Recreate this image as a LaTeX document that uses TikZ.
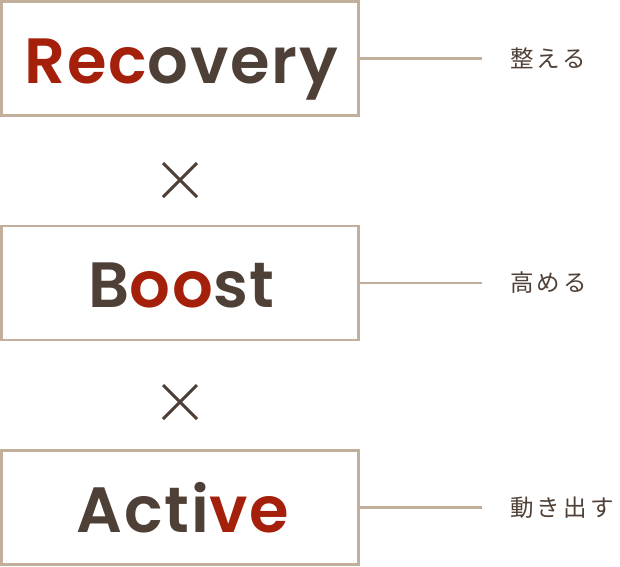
\documentclass[tikz,border=0pt]{standalone}
\usepackage{fontspec}
\setmainfont{Poppins}[BoldFont={* SemiBold},LetterSpace=3]
\newfontfamily\jafont{Noto Sans CJK JP}[LetterSpace=14]
\usetikzlibrary{positioning}
\definecolor{brownink}{HTML}{4F4037}
\definecolor{redink}{HTML}{A5200A}
\definecolor{frame}{HTML}{C2AF9B}
\tikzset{
  wordbox/.style={draw=frame,line width=2.6pt,minimum width=357pt,minimum height=114pt,inner sep=0pt,
    text height=49pt,text depth=0pt,
    font=\fontsize{64}{64}\selectfont\bfseries,text=brownink},
  tagline/.style={draw=frame,line width=2.4pt},
  tag/.style={font=\jafont\fontsize{23.5}{24}\selectfont,text=brownink,inner sep=0pt,anchor=west},
  cross/.style={draw=brownink,line width=3pt}
}
\newcommand{\hl}[1]{\textcolor{redink}{#1}}
\begin{document}
\begin{tikzpicture}[x=1pt,y=-1pt]
\useasboundingbox (0,0) rectangle (620,566);
% three boxes
\node[wordbox] (recovery) at (180,58.5) {\hspace{3pt}\hl{Rec}overy};
\node[wordbox] (boost) at (180,283) {\hspace{3pt}B\hl{oo}st};
\node[wordbox] (active) at (180,507.5) {\hspace{6pt}Acti\hl{ve}};
% lines to the tags
\foreach \b/\t/\txt in {recovery/tagr/整える,boost/tagb/高める,active/taga/動き出す}{
  \node[tag,right=150pt of \b.east] (\t) {\txt};
  \coordinate[right=122pt of \b.east] (\t end);
  \draw[tagline] (\b.east) -- (\t end);
}
% times signs
\foreach \y in {180,402}{
  \draw[cross] (163,\y-17) -- (197,\y+17);
  \draw[cross] (163,\y+17) -- (197,\y-17);
}
\end{tikzpicture}
\end{document}
